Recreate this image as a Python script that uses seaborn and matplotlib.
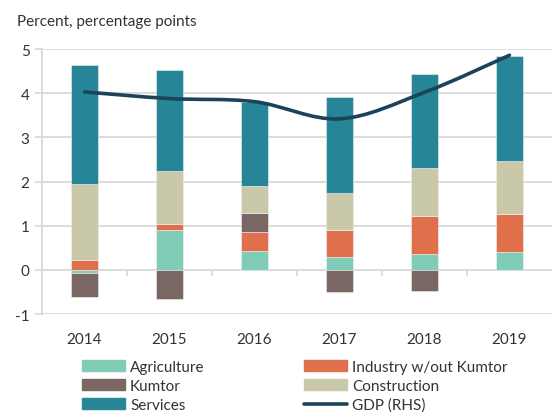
import numpy as np
import pandas as pd
import seaborn as sns
import matplotlib
matplotlib.use("Agg")
import matplotlib.pyplot as plt
from matplotlib.path import Path
from matplotlib.patches import PathPatch, Patch
from matplotlib.lines import Line2D

# Contributions to growth, percentage points
years = ["2014", "2015", "2016", "2017", "2018", "2019"]
agriculture = [-0.07, 0.91, 0.42, 0.29, 0.35, 0.41]
industry = [0.23, 0.12, 0.43, 0.62, 0.87, 0.86]
kumtor = [-0.55, -0.65, 0.44, -0.50, -0.47, 0.0]
construction = [1.71, 1.22, 0.61, 0.83, 1.08, 1.20]
services = [2.69, 2.27, 1.90, 2.18, 2.14, 2.38]
gdp = [4.03, 3.88, 3.81, 3.42, 4.02, 4.86]

series_names = ["Agriculture", "Industry w/out Kumtor", "Kumtor", "Construction", "Services"]
series_values = [agriculture, industry, kumtor, construction, services]
colors = ["#80ccb6", "#e06f4c", "#7a6662", "#c9c8a8", "#268597"]
gdp_color = "#1d435a"

sns.set_theme(style="white")
plt.rcParams["font.family"] = ["Lato", "DejaVu Sans"]
plt.rcParams["axes.unicode_minus"] = False

fig = plt.figure(figsize=(5.53, 4.14), dpi=100)
ax = fig.add_axes([0.076, 0.239, 0.922, 0.64])

# Stack positive and negative contributions separately
pos_base = np.zeros(len(years))
neg_base = np.zeros(len(years))
for name, vals, col in zip(series_names, series_values, colors):
    v = np.asarray(vals, dtype=float)
    bottom = np.where(v >= 0, pos_base, neg_base)
    df = pd.DataFrame({"year": years, "value": v})
    sns.barplot(data=df, x="year", y="value", bottom=bottom, color=col,
                width=0.31, edgecolor="#f2f2f2", linewidth=0.4, ax=ax,
                saturation=1, errorbar=None)
    pos_base = pos_base + np.where(v >= 0, v, 0)
    neg_base = neg_base + np.where(v < 0, v, 0)

# Smoothed GDP line (Bezier through the yearly values)
xs = np.arange(len(years), dtype=float)
ys = np.asarray(gdp, dtype=float)
pts = np.column_stack([xs, ys])
verts = [pts[0]]
codes = [Path.MOVETO]
n = len(pts)
for i in range(n - 1):
    p0 = pts[i - 1] if i > 0 else pts[i]
    p1 = pts[i]
    p2 = pts[i + 1]
    p3 = pts[i + 2] if i + 2 < n else pts[i + 1]
    c1 = p1 + (p2 - p0) / 6.0
    c2 = p2 - (p3 - p1) / 6.0
    verts += [c1, c2, p2]
    codes += [Path.CURVE4] * 3
ax.add_patch(PathPatch(Path(verts, codes), facecolor="none", edgecolor=gdp_color,
                       lw=2.6, capstyle="round", zorder=5))

# Axes styling
ax.set_xlim(-0.5, len(years) - 0.5)
ax.set_ylim(-1, 5)
ax.set_yticks(range(-1, 6))
ax.set_xlabel("")
ax.set_ylabel("")
grid_col = "#d9d9d9"
ax.yaxis.grid(True, color=grid_col, lw=1.3)
ax.set_axisbelow(True)
for s in ["top", "right", "bottom"]:
    ax.spines[s].set_visible(False)
ax.spines["left"].set_color(grid_col)
ax.spines["left"].set_linewidth(1.3)
ax.tick_params(axis="y", which="major", left=True, length=5, width=1.3, color=grid_col,
               labelsize=11, labelcolor="#333333", pad=4)
ax.tick_params(axis="x", length=0, labelsize=11, labelcolor="#333333", pad=13)

# Category separators on the zero line
sec = ax.secondary_xaxis(0, transform=ax.transData)
sec.set_xticks(np.arange(len(years) - 1) + 0.5)
sec.set_xticklabels([])
sec.tick_params(length=4, width=1.3, color=grid_col)
sec.spines["bottom"].set_visible(False)

fig.text(0.03, 0.947, "Percent, percentage points", fontsize=11, color="#333333",
         ha="left", va="center")

handles = [Patch(color=colors[0]), Patch(color=colors[2]), Patch(color=colors[4]),
           Patch(color=colors[1]), Patch(color=colors[3]),
           Line2D([], [], color=gdp_color, lw=2.6, solid_capstyle="round")]
labels = ["Agriculture", "Kumtor", "Services", "Industry w/out Kumtor", "Construction", "GDP (RHS)"]
fig.legend(handles, labels, ncol=2, loc="upper left", bbox_to_anchor=(0.148, 0.128),
           frameon=False, fontsize=11, handlelength=2.8, handleheight=0.7,
           handletextpad=0.35, columnspacing=6.5, labelspacing=0.32,
           borderaxespad=0, borderpad=0, labelcolor="#333333")

fig.savefig("out.png", dpi=100)
